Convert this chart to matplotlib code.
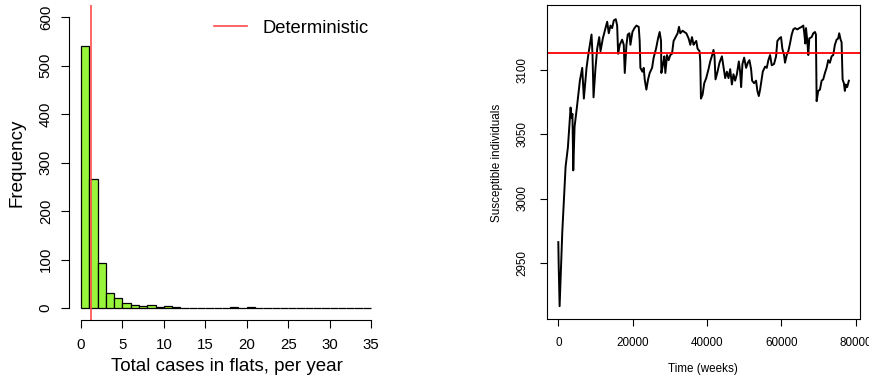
import matplotlib
matplotlib.use('Agg')
import matplotlib.pyplot as plt
import numpy as np

plt.rcParams['font.family'] = ['Liberation Sans', 'DejaVu Sans']

# histogram of simulated yearly case totals (unit-width bins from 0 to 35)
bin_edges = list(range(0, 36))
counts = [540, 267, 92, 30, 21, 10, 7, 4, 6, 3,
          4, 2, 1, 1, 0, 0, 0, 1, 3, 1,
          2, 0, 0, 1, 1, 0, 0, 0, 0, 0,
          1, 0, 0, 0, 1]
deterministic_cases = 1.17

# susceptible trajectory from one long run
time_weeks = [0, 100, 350, 1070, 1960, 2580, 3300, 3570, 3800, 4020,
              4370, 4910, 5800, 6430, 6870, 7590, 8050, 8480, 8930, 9200,
              9470, 10000, 10460, 11000, 11350, 11970, 12420, 12870, 13140, 13570,
              14030, 14470, 14920, 15450, 15820, 16090, 16520, 17160, 17600, 17870,
              18320, 18670, 19120, 19390, 19930, 20460, 21000, 21620, 21880, 22070,
              22610, 22970, 23230, 23680, 24140, 24570, 25210, 25640, 26280, 26820,
              27250, 27620, 27710, 28160, 28510, 28780, 29230, 29660, 30120, 30570,
              31000, 31540, 32080, 32450, 32800, 33420, 33870, 34410, 35030, 35490,
              35940, 36370, 36560, 37090, 37440, 37980, 38170, 38350, 38780, 39240,
              39770, 40390, 40850, 41380, 41730, 42000, 42270, 42810, 43340, 43990,
              44410, 44870, 45330, 45760, 46220, 46670, 47100, 47550, 48010, 48540,
              48890, 49160, 49510, 49970, 50500, 50960, 51390, 51840, 52110, 52650,
              53180, 53530, 53910, 54260, 54710, 54980, 55600, 56050, 56480, 56940,
              57390, 58010, 58550, 58900, 59440, 59890, 60240, 60700, 60960, 61420,
              61850, 62300, 62760, 63190, 63650, 64260, 64800, 65440, 65870, 66140,
              66410, 66600, 66950, 67220, 67490, 68120, 68560, 69020, 69270, 69460,
              69890, 70350, 70800, 71230, 71690, 72140, 72580, 73030, 73490, 73920,
              74370, 74830, 75260, 75530, 75910, 76170, 76440, 76790, 77050, 77320,
              77670, 78130]
susceptible = [2966, 2948, 2916, 2974, 3025, 3040, 3071, 3063, 3066, 3022,
               3056, 3069, 3092, 3102, 3078, 3102, 3112, 3120, 3128, 3112,
               3079, 3102, 3117, 3126, 3115, 3125, 3130, 3135, 3138, 3129,
               3135, 3133, 3139, 3140, 3135, 3113, 3120, 3124, 3120, 3098,
               3120, 3128, 3129, 3120, 3130, 3133, 3135, 3134, 3123, 3102,
               3099, 3102, 3093, 3085, 3093, 3098, 3102, 3110, 3117, 3125,
               3130, 3123, 3098, 3105, 3111, 3098, 3112, 3108, 3112, 3113,
               3123, 3126, 3129, 3134, 3129, 3131, 3130, 3129, 3125, 3120,
               3126, 3120, 3121, 3123, 3117, 3115, 3107, 3078, 3081, 3090,
               3094, 3101, 3107, 3112, 3116, 3111, 3093, 3099, 3106, 3111,
               3103, 3094, 3099, 3094, 3101, 3089, 3097, 3092, 3097, 3107,
               3099, 3087, 3105, 3110, 3102, 3106, 3108, 3101, 3092, 3090,
               3092, 3084, 3080, 3085, 3094, 3099, 3103, 3102, 3108, 3112,
               3104, 3105, 3111, 3123, 3125, 3126, 3117, 3112, 3106, 3112,
               3115, 3121, 3128, 3132, 3133, 3132, 3133, 3134, 3135, 3129,
               3121, 3133, 3123, 3112, 3125, 3126, 3129, 3130, 3128, 3076,
               3084, 3085, 3092, 3093, 3098, 3102, 3108, 3106, 3111, 3112,
               3120, 3124, 3125, 3129, 3124, 3122, 3093, 3090, 3084, 3089,
               3087, 3092]
equilibrium_s = 3113.3

fig = plt.figure(figsize=(8.7, 3.81), dpi=100)

# ---- left: histogram ----
ax1 = fig.add_axes([0.0798, 0.161, 0.360, 0.8247])
ax1.bar(bin_edges[:-1], counts, width=1, align='edge', color='#98F53C',
        edgecolor='black', linewidth=0.9)
ax1.axvline(deterministic_cases, color='#FF4A4A', linewidth=1.2, label='Deterministic')
ax1.set_xlim(-1.4, 36.4)
ax1.set_ylim(-24, 624)
for s in ['top', 'right']:
    ax1.spines[s].set_visible(False)
ax1.spines['left'].set_bounds(0, 600)
ax1.spines['bottom'].set_bounds(0, 35)
ax1.spines['left'].set_linewidth(0.8)
ax1.spines['bottom'].set_linewidth(0.8)
ax1.set_xticks(range(0, 36, 5))
ax1.set_yticks(range(0, 601, 100))
ax1.tick_params(axis='both', labelsize=10.8, length=6, width=0.8, direction='out')
ax1.tick_params(axis='x', pad=7)
ax1.tick_params(axis='y', pad=6)
for lab in ax1.get_yticklabels():
    lab.set_rotation(90)
    lab.set_va('center')
ax1.set_xlabel('Total cases in flats, per year', fontsize=13.5)
ax1.set_ylabel('Frequency', fontsize=13.5)
ax1.xaxis.set_label_coords(0.502, -0.15)
ax1.yaxis.set_label_coords(-0.168, 0.5)
ax1.xaxis.label.set_va('center')
ax1.yaxis.label.set_va('center')
ax1.legend(loc='center left', bbox_to_anchor=(0.4617, 0.928), frameon=False,
           fontsize=13.2, handlelength=1.8, handletextpad=0.85,
           borderpad=0, borderaxespad=0)

# ---- right: susceptible time series ----
ax2 = fig.add_axes([0.6284, 0.1627, 0.3601, 0.824])
ax2.plot(time_weeks, susceptible, color='black', linewidth=1.4)
ax2.axhline(equilibrium_s, color='red', linewidth=1.3)
ax2.set_xlim(-3120, 81120)
ax2.set_ylim(2906, 3151)
for s in ax2.spines.values():
    s.set_linewidth(0.8)
ax2.set_xticks(range(0, 80001, 20000))
ax2.set_yticks(range(2950, 3101, 50))
ax2.tick_params(axis='both', labelsize=8.4, length=5, width=0.8, direction='out')
ax2.tick_params(axis='x', pad=8)
ax2.tick_params(axis='y', pad=8)
for lab in ax2.get_yticklabels():
    lab.set_rotation(90)
    lab.set_va('center')
ax2.set_xlabel('Time (weeks)', fontsize=8.4)
ax2.set_ylabel('Susceptible individuals', fontsize=8.4)
ax2.xaxis.set_label_coords(0.5, -0.160)
ax2.yaxis.set_label_coords(-0.159, 0.497)
ax2.xaxis.label.set_va('center')
ax2.yaxis.label.set_va('center')

fig.savefig('out.png', dpi=100)
